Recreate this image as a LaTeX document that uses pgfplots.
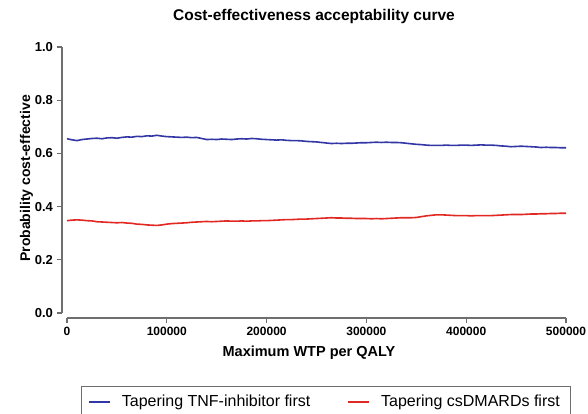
\documentclass[border=0pt]{standalone}
\usepackage{pgfplots}
\pgfplotsset{compat=1.18}
\usepackage{pgfplotstable}
\usepackage{fontspec}
\setmainfont{Liberation Sans}
\definecolor{cblue}{RGB}{50,55,165}
\definecolor{cred}{RGB}{225,40,35}
\definecolor{axgray}{RGB}{110,110,110}
\pgfplotstableread{
x y
0 0.655
5000 0.651
10000 0.648
15000 0.652
20000 0.654
25000 0.656
30000 0.657
35000 0.655
40000 0.658
45000 0.659
50000 0.657
55000 0.660
60000 0.662
65000 0.661
70000 0.664
75000 0.663
80000 0.666
85000 0.665
90000 0.668
95000 0.665
100000 0.663
105000 0.662
110000 0.661
115000 0.660
120000 0.661
125000 0.659
130000 0.660
135000 0.656
140000 0.652
145000 0.653
150000 0.652
155000 0.654
160000 0.653
165000 0.652
170000 0.654
175000 0.655
180000 0.654
185000 0.656
190000 0.655
195000 0.653
200000 0.652
205000 0.651
210000 0.650
215000 0.651
220000 0.649
225000 0.648
230000 0.648
235000 0.647
240000 0.645
245000 0.644
250000 0.643
255000 0.641
260000 0.639
265000 0.637
270000 0.638
275000 0.637
280000 0.638
285000 0.638
290000 0.639
295000 0.640
300000 0.640
305000 0.641
310000 0.642
315000 0.641
320000 0.642
325000 0.641
330000 0.641
335000 0.640
340000 0.638
345000 0.636
350000 0.634
355000 0.633
360000 0.631
365000 0.630
370000 0.630
375000 0.630
380000 0.631
385000 0.630
390000 0.630
395000 0.631
400000 0.631
405000 0.630
410000 0.631
415000 0.632
420000 0.631
425000 0.631
430000 0.630
435000 0.628
440000 0.627
445000 0.625
450000 0.626
455000 0.627
460000 0.626
465000 0.625
470000 0.624
475000 0.622
480000 0.623
485000 0.622
490000 0.622
495000 0.621
500000 0.621
}\tnfdata
\pgfplotstableread{
x y
0 0.347
5000 0.349
10000 0.350
15000 0.349
20000 0.347
25000 0.346
30000 0.343
35000 0.342
40000 0.341
45000 0.340
50000 0.339
55000 0.340
60000 0.338
65000 0.337
70000 0.334
75000 0.333
80000 0.331
85000 0.330
90000 0.329
95000 0.331
100000 0.334
105000 0.336
110000 0.337
115000 0.338
120000 0.339
125000 0.341
130000 0.342
135000 0.343
140000 0.344
145000 0.343
150000 0.344
155000 0.345
160000 0.346
165000 0.345
170000 0.345
175000 0.346
180000 0.345
185000 0.346
190000 0.346
195000 0.347
200000 0.347
205000 0.348
210000 0.349
215000 0.350
220000 0.351
225000 0.351
230000 0.352
235000 0.353
240000 0.353
245000 0.354
250000 0.355
255000 0.356
260000 0.357
265000 0.358
270000 0.357
275000 0.357
280000 0.356
285000 0.356
290000 0.355
295000 0.355
300000 0.355
305000 0.354
310000 0.355
315000 0.354
320000 0.355
325000 0.356
330000 0.357
335000 0.358
340000 0.358
345000 0.358
350000 0.359
355000 0.362
360000 0.365
365000 0.367
370000 0.369
375000 0.369
380000 0.368
385000 0.367
390000 0.366
395000 0.366
400000 0.366
405000 0.365
410000 0.366
415000 0.366
420000 0.366
425000 0.366
430000 0.367
435000 0.368
440000 0.369
445000 0.370
450000 0.370
455000 0.370
460000 0.371
465000 0.372
470000 0.372
475000 0.373
480000 0.373
485000 0.374
490000 0.374
495000 0.375
500000 0.375
}\csdata
\begin{document}
\begin{tikzpicture}
\useasboundingbox (0,0) rectangle (588pt,414pt);
\begin{axis}[
  at={(62pt,96pt)}, anchor=south west,
  scale only axis, width=504pt, height=271pt,
  xmin=-5000, xmax=500000, ymin=-0.019, ymax=1.0,
  axis x line=bottom, axis y line=left,
  axis line style={draw=none},
  clip=false,
  xtick={0,100000,...,500000},
  ytick={0,0.2,...,1.0},
  scaled x ticks=false,
  /pgf/number format/assume math mode=true,
  xticklabel style={/pgf/number format/fixed, /pgf/number format/1000 sep={}, font=\bfseries\fontsize{12}{14}\selectfont},
  yticklabel style={/pgf/number format/fixed, /pgf/number format/precision=1, /pgf/number format/fixed zerofill, font=\bfseries\fontsize{13}{15}\selectfont},
  tick align=outside, major tick length=5.5pt,
  tick style={axgray, line width=1.3pt},
  title={Cost-effectiveness acceptability curve},
  title style={at={(axis description cs:0.5,1.0738)}, anchor=base, font=\bfseries\fontsize{15.5}{18}\selectfont},
  xlabel={Maximum WTP per QALY},
  xlabel style={at={(axis description cs:0.49,-0.1439)}, anchor=base, font=\bfseries\fontsize{14.5}{17}\selectfont},
  ylabel={Probability cost-effective},
  ylabel style={at={(axis description cs:-0.063,0.515)}, anchor=base, font=\bfseries\fontsize{14}{17}\selectfont},
  legend columns=2,
  legend cell align=left,
  legend style={at={(axis description cs:0.037,-0.25)}, anchor=north west,
    draw=axgray, line width=0.8pt, font=\fontsize{16}{19}\selectfont,
    inner xsep=7pt, inner ysep=7pt,
    /tikz/every odd column/.append style={column sep=9pt},
    /tikz/every even column/.append style={column sep=35pt}},
  legend image code/.code={\draw[#1, line width=1.8pt] (0pt,0pt) -- (21pt,0pt);},
]
\addplot[cblue, line width=1.6pt] table[x=x,y=y] {\tnfdata};
\addlegendentry{Tapering TNF-inhibitor first}
\addplot[cred, line width=1.6pt] table[x=x,y=y] {\csdata};
\addlegendentry{Tapering csDMARDs first\hspace*{2pt}}
\draw[axgray, line width=1.5pt] (axis cs:0,-0.019) -- (axis cs:500000,-0.019);
\draw[axgray, line width=1.5pt] (axis cs:-5000,0) -- (axis cs:-5000,1);
\end{axis}
\end{tikzpicture}
\end{document}
